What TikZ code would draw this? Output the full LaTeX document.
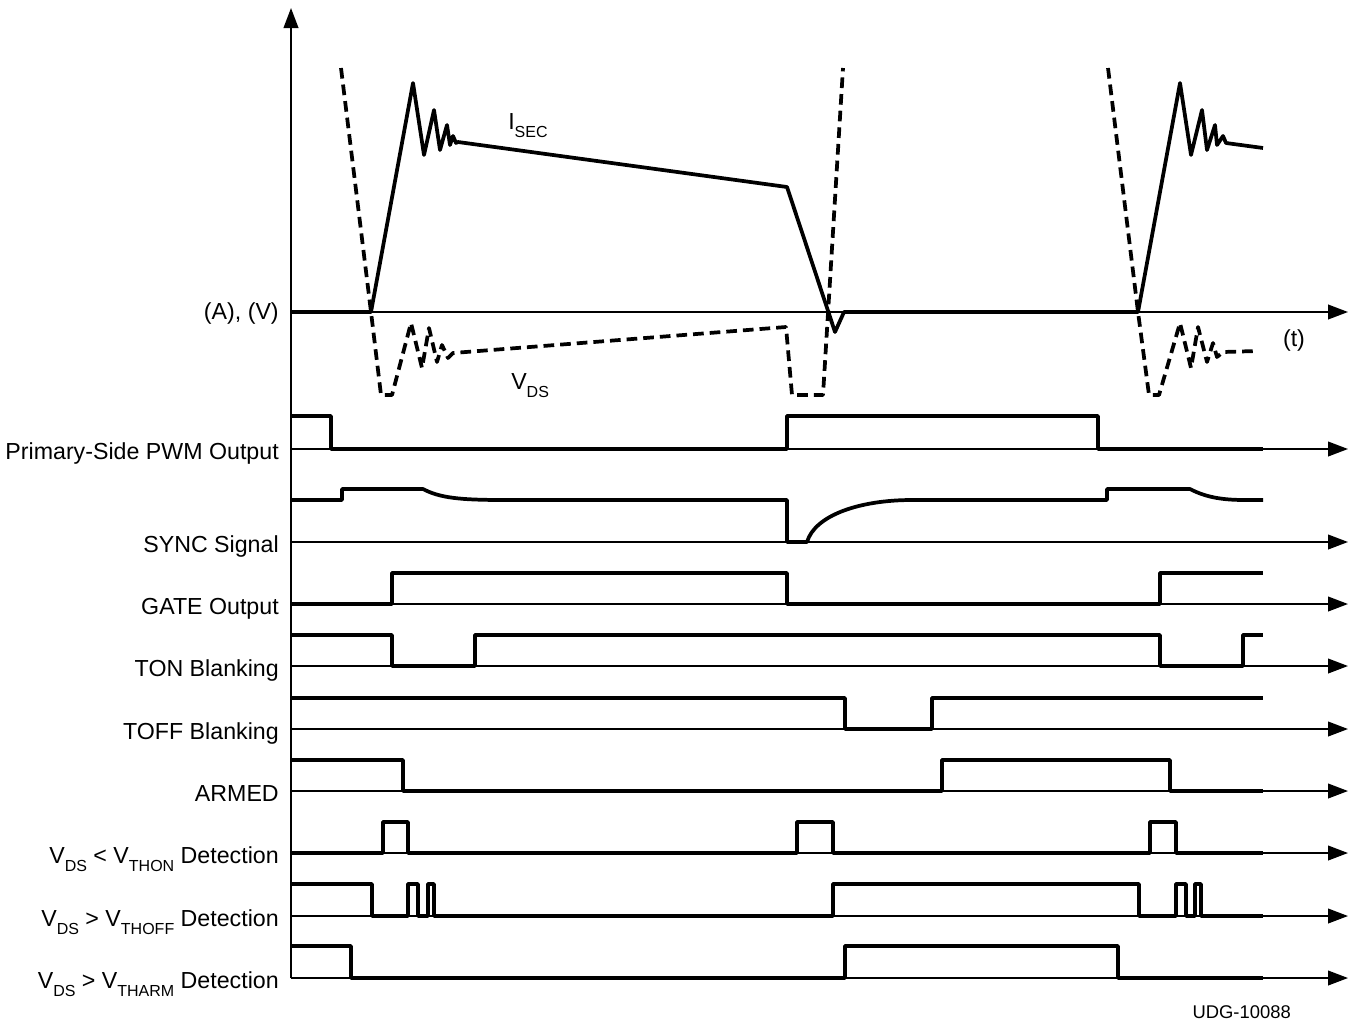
\documentclass[tikz,border=0pt]{standalone}
\usepackage{fontspec}
\setmainfont{Liberation Sans}
\usepackage{tikz}
\usetikzlibrary{arrows.meta}
\definecolor{traceColor}{RGB}{0, 0, 0}
\definecolor{axisColor}{RGB}{0, 0, 0}
\newcommand{\lowsub}[1]{\raisebox{-6pt}{\fontsize{12}{12}\selectfont #1}}

\begin{document}
\begin{tikzpicture}[x=0.75pt, y=-0.75pt, font=\fontsize{17.4}{20}\selectfont,
	signal/.style={line width=2.8pt, traceColor, line join=round},
	vdsTrace/.style={line width=2.8pt, traceColor, dash pattern=on 8pt off 4.5pt},
	baseLine/.style={line width=1.4pt, axisColor, -{Triangle[length=15pt, width=11pt]}},
	rowLabel/.style={anchor=base east, inner sep=0pt}]
	\useasboundingbox (0,0) rectangle (1351,1028);

	% Axes of the analog part
	\coordinate (yBottom) at (291,978);
	\coordinate (yTop) at (291,8);
	\coordinate (origin) at (291,312);
	\coordinate (tEnd) at (1348,312);
	\draw[baseLine] (yBottom) -- (yTop);
	\draw[baseLine] (origin) -- (tEnd);
	\node[rowLabel] (avLabel) at (279,319) {(A), (V)};
	\node[anchor=base, inner sep=0pt] (tLabel) at (1294,346) {(t)};

	% Secondary current I_SEC
	\draw[signal] plot coordinates {
		(291,312) (371,312) (413,83) (424,155) (434,110) (440,150) (447,125) (450,145) (453,136) (456,143) (458,142)
		(787,187) (835,332) (844,312) (1138,312) (1180,83) (1191,155) (1202,110) (1207,150) (1215,125) (1217,145)
		(1223,136) (1226,143) (1263,148)
	};
	\node[anchor=base west, inner sep=0pt] (isecLabel) at (508,129) {I\lowsub{SEC}};

	% Drain-source voltage V_DS (dashed)
	\draw[vdsTrace, line join=round] plot coordinates {
		(341,68) (371,312) (381,395) (392,395) (411,323) (422,368) (429,328) (437,362) (442,345) (448,358) (453,353)
		(786,327) (792,395) (823,395) (843,68)
	};
	\draw[vdsTrace, line join=round] plot coordinates {
		(1108,68) (1138,312) (1149,395) (1159,395) (1180,323) (1191,368) (1198,327) (1207,362) (1213,343) (1217,357)
		(1223,352) (1257,351)
	};
	\node[anchor=base west, inner sep=0pt] (vdsLabel) at (511,389) {V\lowsub{DS}};

	% Time axes of the logic signals
	\draw[baseLine] (291,449) -- (1348,449);
	\draw[baseLine] (291,542) -- (1348,542);
	\draw[baseLine] (291,604) -- (1348,604);
	\draw[baseLine] (291,666) -- (1348,666);
	\draw[baseLine] (291,729) -- (1348,729);
	\draw[baseLine] (291,791) -- (1348,791);
	\draw[baseLine] (291,853) -- (1348,853);
	\draw[baseLine] (291,916) -- (1348,916);
	\draw[baseLine] (291,978) -- (1348,978);

	% Primary-side PWM output
	\draw[signal] plot coordinates {
		(291,416) (331,416) (331,449) (787,449) (787,416) (1098,416) (1098,449) (1263,449)
	};
	\node[rowLabel] (pwmLabel) at (279,459) {Primary-Side PWM Output};

	% SYNC signal
	\draw[signal] (291,500) -- (342,500) -- (342,489) -- (423,489) .. controls (440,498) and (460,500) .. (505,500)
		-- (787,500) -- (787,542) -- (807,542) .. controls (815,515) and (860,500) .. (912,500)
		-- (1107,500) -- (1107,489) -- (1190,489) .. controls (1207,498) and (1225,500) .. (1245,500) -- (1263,500);
	\node[rowLabel] (syncLabel) at (279,552) {SYNC Signal};

	% GATE output
	\draw[signal] plot coordinates {
		(291,604) (392,604) (392,573) (787,573) (787,604) (1160,604) (1160,573) (1263,573)
	};
	\node[rowLabel] (gateLabel) at (279,614) {GATE Output};

	% TON blanking
	\draw[signal] plot coordinates {
		(291,635) (392,635) (392,666) (475,666) (475,635) (1160,635) (1160,666) (1243,666) (1243,635) (1263,635)
	};
	\node[rowLabel] (tonLabel) at (279,676) {TON Blanking};

	% TOFF blanking
	\draw[signal] plot coordinates {
		(291,698) (845,698) (845,729) (932,729) (932,698) (1263,698)
	};
	\node[rowLabel] (toffLabel) at (279,739) {TOFF Blanking};

	% ARMED
	\draw[signal] plot coordinates {
		(291,760) (403,760) (403,791) (942,791) (942,760) (1170,760) (1170,791) (1263,791)
	};
	\node[rowLabel] (armedLabel) at (279,801) {ARMED};

	% V_DS < V_THON detection
	\draw[signal] plot coordinates {
		(291,853) (383,853) (383,822) (408,822) (408,853) (797,853) (797,822) (833,822) (833,853)
		(1150,853) (1150,822) (1176,822) (1176,853) (1263,853)
	};
	\node[rowLabel] (thonLabel) at (279,863) {V\lowsub{DS} < V\lowsub{THON} Detection};

	% V_DS > V_THOFF detection
	\draw[signal] plot coordinates {
		(291,884) (372,884) (372,916) (408,916) (408,884) (418,884) (418,916) (428,916) (428,884) (434,884) (434,916)
		(833,916) (833,884) (1139,884) (1139,916) (1176,916) (1176,884) (1186,884) (1186,916) (1195,916) (1195,884)
		(1201,884) (1201,916) (1263,916)
	};
	\node[rowLabel] (thoffLabel) at (279,926) {V\lowsub{DS} > V\lowsub{THOFF} Detection};

	% V_DS > V_THARM detection
	\draw[signal] plot coordinates {
		(291,946) (351,946) (351,978) (845,978) (845,946) (1118,946) (1118,978) (1263,978)
	};
	\node[rowLabel] (tharmLabel) at (279,988) {V\lowsub{DS} > V\lowsub{THARM} Detection};

	% Drawing number
	\node[anchor=base east, inner sep=0pt, font=\fontsize{13.8}{16}\selectfont] (udgLabel) at (1291,1018) {UDG-10088};
\end{tikzpicture}
\end{document}
